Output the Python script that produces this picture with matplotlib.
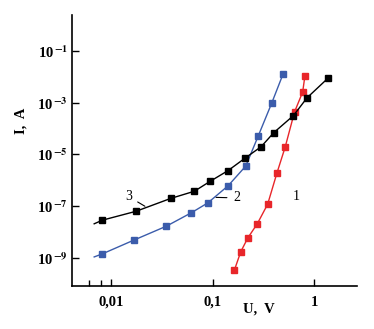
import numpy as np
import matplotlib
matplotlib.use('Agg')
import matplotlib.pyplot as plt
from matplotlib.ticker import FixedLocator, NullFormatter

plt.rcParams['font.family'] = ['Liberation Serif', 'DejaVu Serif']
plt.rcParams['mathtext.fontset'] = 'stix'

# curve 1 (red)
u1 = [0.164, 0.189, 0.222, 0.275, 0.348, 0.43, 0.518, 0.64, 0.77, 0.81]
i1 = [3.5e-10, 1.74e-9, 6.0e-9, 2.1e-8, 1.2e-7, 1.95e-6, 1.95e-5, 4.4e-4, 2.6e-3, 1.08e-2]
# curve 2 (blue), first point is where the line starts (no marker)
u2 = [0.0068, 0.0082, 0.0169, 0.035, 0.0616, 0.0896, 0.142, 0.212, 0.281, 0.382, 0.494]
i2 = [1.1e-9, 1.45e-9, 5.0e-9, 1.7e-8, 5.6e-8, 1.35e-7, 6.2e-7, 3.6e-6, 5.2e-5, 9.8e-4, 1.3e-2]
# curve 3 (black), first point is where the line starts (no marker)
u3 = [0.0068, 0.0082, 0.0176, 0.0385, 0.066, 0.094, 0.142, 0.207, 0.30, 0.40, 0.625, 0.85, 1.38]
i3 = [2.1e-8, 2.9e-8, 6.4e-8, 2.0e-7, 3.8e-7, 9.1e-7, 2.4e-6, 7.1e-6, 2.0e-5, 7.0e-5, 3.2e-4, 1.55e-3, 9.2e-3]

yticks = [1e-1, 1e-3, 1e-5, 1e-7, 1e-9]
ylabels = [r'10$^{\,\mathbf{-1}}$', r'10$^{\,\mathbf{-3}}$', r'10$^{\,\mathbf{-5}}$',
           r'10$^{\,\mathbf{-7}}$', r'10$^{\,\mathbf{-9}}$']
xticks = [0.01, 0.1, 1]
xlabels = ['0,01', '0,1', '1']

fig = plt.figure(figsize=(3.74, 3.29), dpi=100)
ax = fig.add_axes([0.1925, 0.1307, 0.762, 0.8237])

ax.plot(u1, i1, '-s', color='#e8262a', lw=1, ms=5)
ax.plot(u2, i2, '-s', color='#3b5cab', lw=1, ms=5, markevery=list(range(1, len(u2))))
ax.plot(u3, i3, '-s', color='black', lw=1, ms=5, markevery=list(range(1, len(u3))))

ax.set_xscale('log')
ax.set_yscale('log')
ax.set_xlim(0.00411, 2.64)
ax.set_ylim(8.28e-11, 2.46)

ax.xaxis.set_major_locator(FixedLocator(xticks))
ax.set_xticklabels(xlabels, fontsize=10.5, fontweight='bold')
ax.xaxis.set_minor_locator(FixedLocator([0.006, 0.008]))
ax.xaxis.set_minor_formatter(NullFormatter())
ax.yaxis.set_major_locator(FixedLocator(yticks))
ax.set_yticklabels(ylabels, fontsize=10.5, fontweight='bold')
ax.yaxis.set_minor_locator(FixedLocator([]))

ax.tick_params(axis='x', which='major', direction='in', length=5, width=1, pad=7)
ax.tick_params(axis='y', which='major', direction='in', length=5, width=1, pad=3)
ax.tick_params(which='minor', direction='in', length=4, width=1)
for s in ['top', 'right']:
    ax.spines[s].set_visible(False)
for s in ['left', 'bottom']:
    ax.spines[s].set_linewidth(1.2)

ax.set_xlabel('U,  V', fontsize=10.5, fontweight='bold')
ax.xaxis.set_label_coords(0.656, -0.062)
ax.set_ylabel('I,  A', fontsize=10.5, fontweight='bold')
ax.yaxis.set_label_coords(-0.155, 0.61)

# curve labels
ax.text(0.66, 2.3e-7, '1', fontsize=10, ha='center', va='center')
ax.annotate('2', xy=(0.108, 2.2e-7), xytext=(0.175, 2.1e-7), fontsize=10,
            ha='center', va='center',
            arrowprops=dict(arrowstyle='-', lw=0.8, color='black', shrinkA=3, shrinkB=0))
ax.annotate('3', xy=(0.0215, 1.0e-7), xytext=(0.0150, 2.3e-7), fontsize=10,
            ha='center', va='center',
            arrowprops=dict(arrowstyle='-', lw=0.8, color='black', shrinkA=2, shrinkB=0))

fig.savefig('out.png', dpi=100)
